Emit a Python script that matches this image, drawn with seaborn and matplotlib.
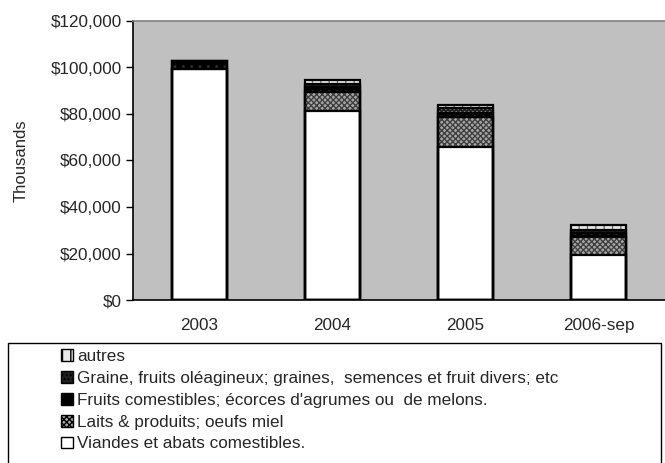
import matplotlib
matplotlib.use("Agg")
import matplotlib.pyplot as plt
import matplotlib.ticker as mticker
from matplotlib.patches import Patch, Rectangle
import numpy as np
import pandas as pd
import seaborn as sns

# values in thousands of dollars
years = ["2003", "2004", "2005", "2006-sep"]
viandes = [99.5, 81.5, 66.0, 19.3]
laits = [0.0, 8.0, 12.6, 7.8]
fruits = [3.5, 2.0, 2.0, 1.7]
graine = [0.0, 1.5, 1.8, 1.3]
autres = [0.0, 1.5, 1.5, 2.0]

series_names = [
    "Viandes et abats comestibles.",
    "Laits & produits; oeufs miel",
    "Fruits comestibles; écorces d'agrumes ou  de melons.",
    "Graine, fruits oléagineux; graines,  semences et fruit divers; etc",
    "autres",
]
series_vals = [viandes, laits, fruits, graine, autres]

# (face colour, hatch, hatch colour)
styles = [
    ("white", "", "black"),
    ("#a8a8a8", "xxxxxx", "#404040"),
    ("black", "..", "#303030"),
    ("#202020", "....", "#e0e0e0"),
    ("#e8e8e8", "||", "#707070"),
]

sns.set_theme(style="white")
plt.rcParams["font.family"] = ["Liberation Sans", "DejaVu Sans"]
plt.rcParams["hatch.linewidth"] = 1.0

fig = plt.figure(figsize=(6.65, 4.63), dpi=100)
ax = fig.add_axes([133 / 665, 1 - 300 / 463, 532 / 665, 279 / 463])
ax.set_facecolor("#c0c0c0")

# cumulative tops (in dollars), drawn from the top layer down so lower layers cover upper
cum = np.cumsum(np.array(series_vals) * 1000, axis=0)
for i in reversed(range(len(series_vals))):
    df = pd.DataFrame({"year": years, "val": cum[i]})
    n_before = len(ax.patches)
    sns.barplot(data=df, x="year", y="val", color=styles[i][0], width=0.41,
                saturation=1, ax=ax, errorbar=None)
    for p in ax.patches[n_before:]:
        p.set_facecolor(styles[i][0])
        p.set_hatch(styles[i][1])
        p.set_edgecolor(styles[i][2])
        p.set_linewidth(0)

# black outlines of every segment
for i in range(len(series_vals)):
    df = pd.DataFrame({"year": years, "val": cum[i]})
    sns.barplot(data=df, x="year", y="val", width=0.41, fill=False, color="black",
                linewidth=1.6, ax=ax, errorbar=None)

ax.set_ylim(0, 120000)
ax.set_xlim(-0.5, 3.5)
ax.yaxis.set_major_locator(mticker.MultipleLocator(20000))
ax.yaxis.set_major_formatter(mticker.StrMethodFormatter("${x:,.0f}"))
ax.set_xlabel("")
ax.set_ylabel("Thousands", fontsize=12, labelpad=16)
ax.tick_params(axis="y", left=True, length=5, width=1, color="black", labelsize=12.3, pad=3)
ax.tick_params(axis="x", bottom=False, labelsize=12.3, pad=7)

for s in ["left", "bottom"]:
    ax.spines[s].set_color("black")
    ax.spines[s].set_linewidth(1.2)
ax.spines["top"].set_color("#808080")
ax.spines["top"].set_linewidth(1.2)
ax.spines["right"].set_visible(False)

# legend box along the bottom
fig.patches.append(Rectangle((8 / 665, -0.01), 653 / 665, 1 - 343 / 463 + 0.01,
                             transform=fig.transFigure, fill=False,
                             edgecolor="black", linewidth=1.0))
handles = []
for i in reversed(range(len(series_vals))):
    handles.append(Patch(facecolor=styles[i][0], hatch=styles[i][1],
                         edgecolor="black", linewidth=1.0, label=series_names[i]))
fig.legend(handles=handles, loc="upper left", bbox_to_anchor=(56 / 665, 1 - 344 / 463),
           frameon=False, fontsize=12.3, handlelength=0.7, handleheight=0.7,
           handletextpad=0.25, labelspacing=0.4, borderaxespad=0, borderpad=0.3)

fig.savefig("out.png", dpi=100)
